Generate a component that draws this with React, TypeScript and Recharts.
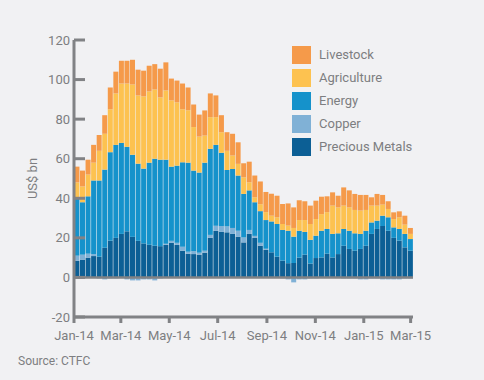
import { BarChart, Bar, XAxis, YAxis, ReferenceLine, Legend, Label } from 'recharts';

// weekly CFTC net positions, US$ bn, Jan-14 .. Mar-15
const PRECIOUS = [8.4, 9, 10, 10.8, 10.5, 15, 18.6, 20, 22, 23.3,
    20.5, 18.5, 17.2, 16.5, 16, 15.8, 16.5, 17.5, 16.5, 13.5,
    12, 11.8, 11.5, 12.5, 20, 23.6, 23, 22.8, 22, 20.6,
    17.7, 22, 20, 16, 14, 12.7, 10.5, 8.5, 7.2, 7.3,
    10, 11.5, 7, 9.8, 10.1, 12, 10.1, 11.8, 16, 14.4,
    13.5, 14.4, 16, 22, 24.5, 26, 23.6, 20, 18.6, 15.2,
    13.5];
const COPPER = [2.6, 2.5, 2, 1, -0.5, -1, -0.5, -0.5, 0, -1,
    -1.5, -1.5, -1, -1, -1.5, -0.5, 0.5, 1, 1, 2,
    1, 1.5, 1, 1, 1.5, 2.5, 3, 3, 3, 3,
    2.5, 2, 1, 1.5, 0.5, 0, 0, -0.5, -1, -2.5,
    -1, -1, -0.5, -0.5, 0, 0, 0, 0, -0.5, -0.5,
    -0.5, -1, -1, -0.5, -0.5, -1, -1, -1, -1, -0.5,
    -0.5];
const ENERGY = [29.5, 26.5, 29, 37.2, 38.5, 39.5, 44.7, 47, 46, 42.7,
    41.5, 39, 37.8, 41.5, 44, 43.7, 42.5, 37.5, 39, 42.7,
    45, 40.7, 40.5, 44.5, 43.5, 40.9, 37, 28.5, 29.8, 27.9,
    22, 20, 17, 16, 14.5, 15.6, 16.5, 15.5, 16.4, 13.3,
    13.6, 11.5, 12, 11.3, 13.5, 12.5, 11.9, 10.5, 8.5, 9.2,
    8.8, 7.6, 7.6, 5.8, 4.2, 5.2, 6.8, 5.3, 5.9, 6.8,
    5.9];
const AGRICULTURE = [7.5, 8, 11, 9, 15, 18.1, 21.7, 26, 30, 32,
    35.5, 34.5, 36.5, 36, 35, 31.5, 35, 33.5, 32, 26.8,
    26.5, 22, 18.2, 13.7, 16, 14, 10.4, 9.7, 6.8, 5.9,
    8.4, 4.1, 2.5, 3.5, 4, 2.9, 3.4, 3, 2.6, 4.4,
    5.4, 6, 8, 8.4, 8.4, 8.5, 14.3, 13.1, 11.8, 11.8,
    11.8, 11.8, 10.5, 8.5, 7.6, 5.6, 4.2, 4.2, 5.9, 4.7,
    2.6];
const LIVESTOCK = [8, 8, 7.5, 9, 8, 9.4, 11, 11, 11.5, 11.5,
    12.5, 13, 13, 13, 12.8, 14.5, 14.2, 11, 11, 13,
    11.5, 11.4, 11.1, 12.7, 12, 11, 8.6, 9.4, 11, 10.9,
    7.1, 10.4, 11, 11.5, 10.2, 11.1, 10.9, 10.1, 11.2, 10.4,
    10, 9.5, 9.3, 9.3, 8.8, 8, 6.7, 5.9, 9.2, 8.6,
    8.1, 7.9, 7.6, 4.2, 5.9, 4.9, 3.9, 3.4, 3, 4.5,
    3];

// days since 1 Jan 2014 (mid-week) for each bar
const WEEK_DAYS = PRECIOUS.map((_, i) => i * 7 + 3.5);
const TICK_DAYS = [0, 59, 120, 181, 243, 304, 365, 424];
const TICK_LABELS = ['Jan-14', 'Mar-14', 'May-14', 'Jul-14', 'Sep-14', 'Nov-14', 'Jan-15', 'Mar-15'];
const Y_TICKS = [-20, 0, 20, 40, 60, 80, 100, 120];

const SERIES = [
    { key: 'li', name: 'Livestock', color: '#f59a4a' },
    { key: 'ag', name: 'Agriculture', color: '#fdc250' },
    { key: 'en', name: 'Energy', color: '#1592cb' },
    { key: 'cu', name: 'Copper', color: '#80b1d6' },
    { key: 'pm', name: 'Precious Metals', color: '#0c5f95' },
];

const AXIS = '#818285';
const TEXT = '#7d7e81';
const BG = '#f1f1f3';

const data = WEEK_DAYS.map((day, i) => ({
    day,
    pm: PRECIOUS[i],
    cu: COPPER[i],
    en: ENERGY[i],
    ag: AGRICULTURE[i],
    li: LIVESTOCK[i],
}));

function YTick(props: any) {
    const { x, y, payload } = props;
    return (
        <g>
            <line x1={x + 4} x2={x + 15} y1={y} y2={y} stroke={AXIS} strokeWidth={3} />
            <text x={x} y={y} dy="0.35em" textAnchor="end" fill={TEXT} fontSize={13}>{payload.value}</text>
        </g>
    );
}

function LegendBox() {
    return (
        <div>
            {SERIES.map(s => (
                <div key={s.key} style={{ display: 'flex', alignItems: 'center', height: 23 }}>
                    <div style={{ width: 19, height: 18, background: s.color, marginRight: 8 }} />
                    <span style={{ fontSize: 13, color: TEXT }}>{s.name}</span>
                </div>
            ))}
        </div>
    );
}

export default function App() {
    const stackOrder = [...SERIES].reverse();
    return (
        <div style={{ position: 'absolute', left: 0, top: 0, width: 484, height: 380, background: BG, fontFamily: 'Roboto, sans-serif' }}>
            <BarChart width={484} height={380} data={data} stackOffset="sign" barCategoryGap="8%"
                margin={{ top: 40, right: 71, left: 0, bottom: 33 }}>
                <XAxis
                    type="number"
                    dataKey="day"
                    domain={[0, 427]}
                    ticks={TICK_DAYS}
                    interval={0}
                    tickFormatter={(v) => TICK_LABELS[TICK_DAYS.indexOf(v)]}
                    height={30}
                    tickSize={6}
                    tickMargin={8}
                    axisLine={{ stroke: AXIS, strokeWidth: 3 }}
                    tickLine={{ stroke: AXIS, strokeWidth: 3 }}
                    tick={{ fill: TEXT, fontSize: 13 }}
                />
                <YAxis
                    domain={[-20, 120]}
                    ticks={Y_TICKS}
                    interval={0}
                    width={74}
                    tickSize={0}
                    tickMargin={4}
                    axisLine={{ stroke: AXIS, strokeWidth: 3 }}
                    tickLine={false}
                    tick={<YTick />}
                >
                    <Label value="US$ bn" angle={-90} position="center" dx={-5} fill={TEXT} fontSize={13} />
                </YAxis>
                <ReferenceLine y={0} stroke={AXIS} strokeWidth={2.5} />
                {stackOrder.map(s => (
                    <Bar key={s.key} dataKey={s.key} name={s.name} stackId="a" fill={s.color} isAnimationActive={false} />
                ))}
                <Legend layout="vertical" align="center" verticalAlign="middle" content={<LegendBox />}
                    wrapperStyle={{ left: 292, top: 43, width: 170 }} />
            </BarChart>
            <div style={{ position: 'absolute', left: 18, top: 354, fontSize: 12, color: TEXT }}>Source: CTFC</div>
        </div>
    );
}
